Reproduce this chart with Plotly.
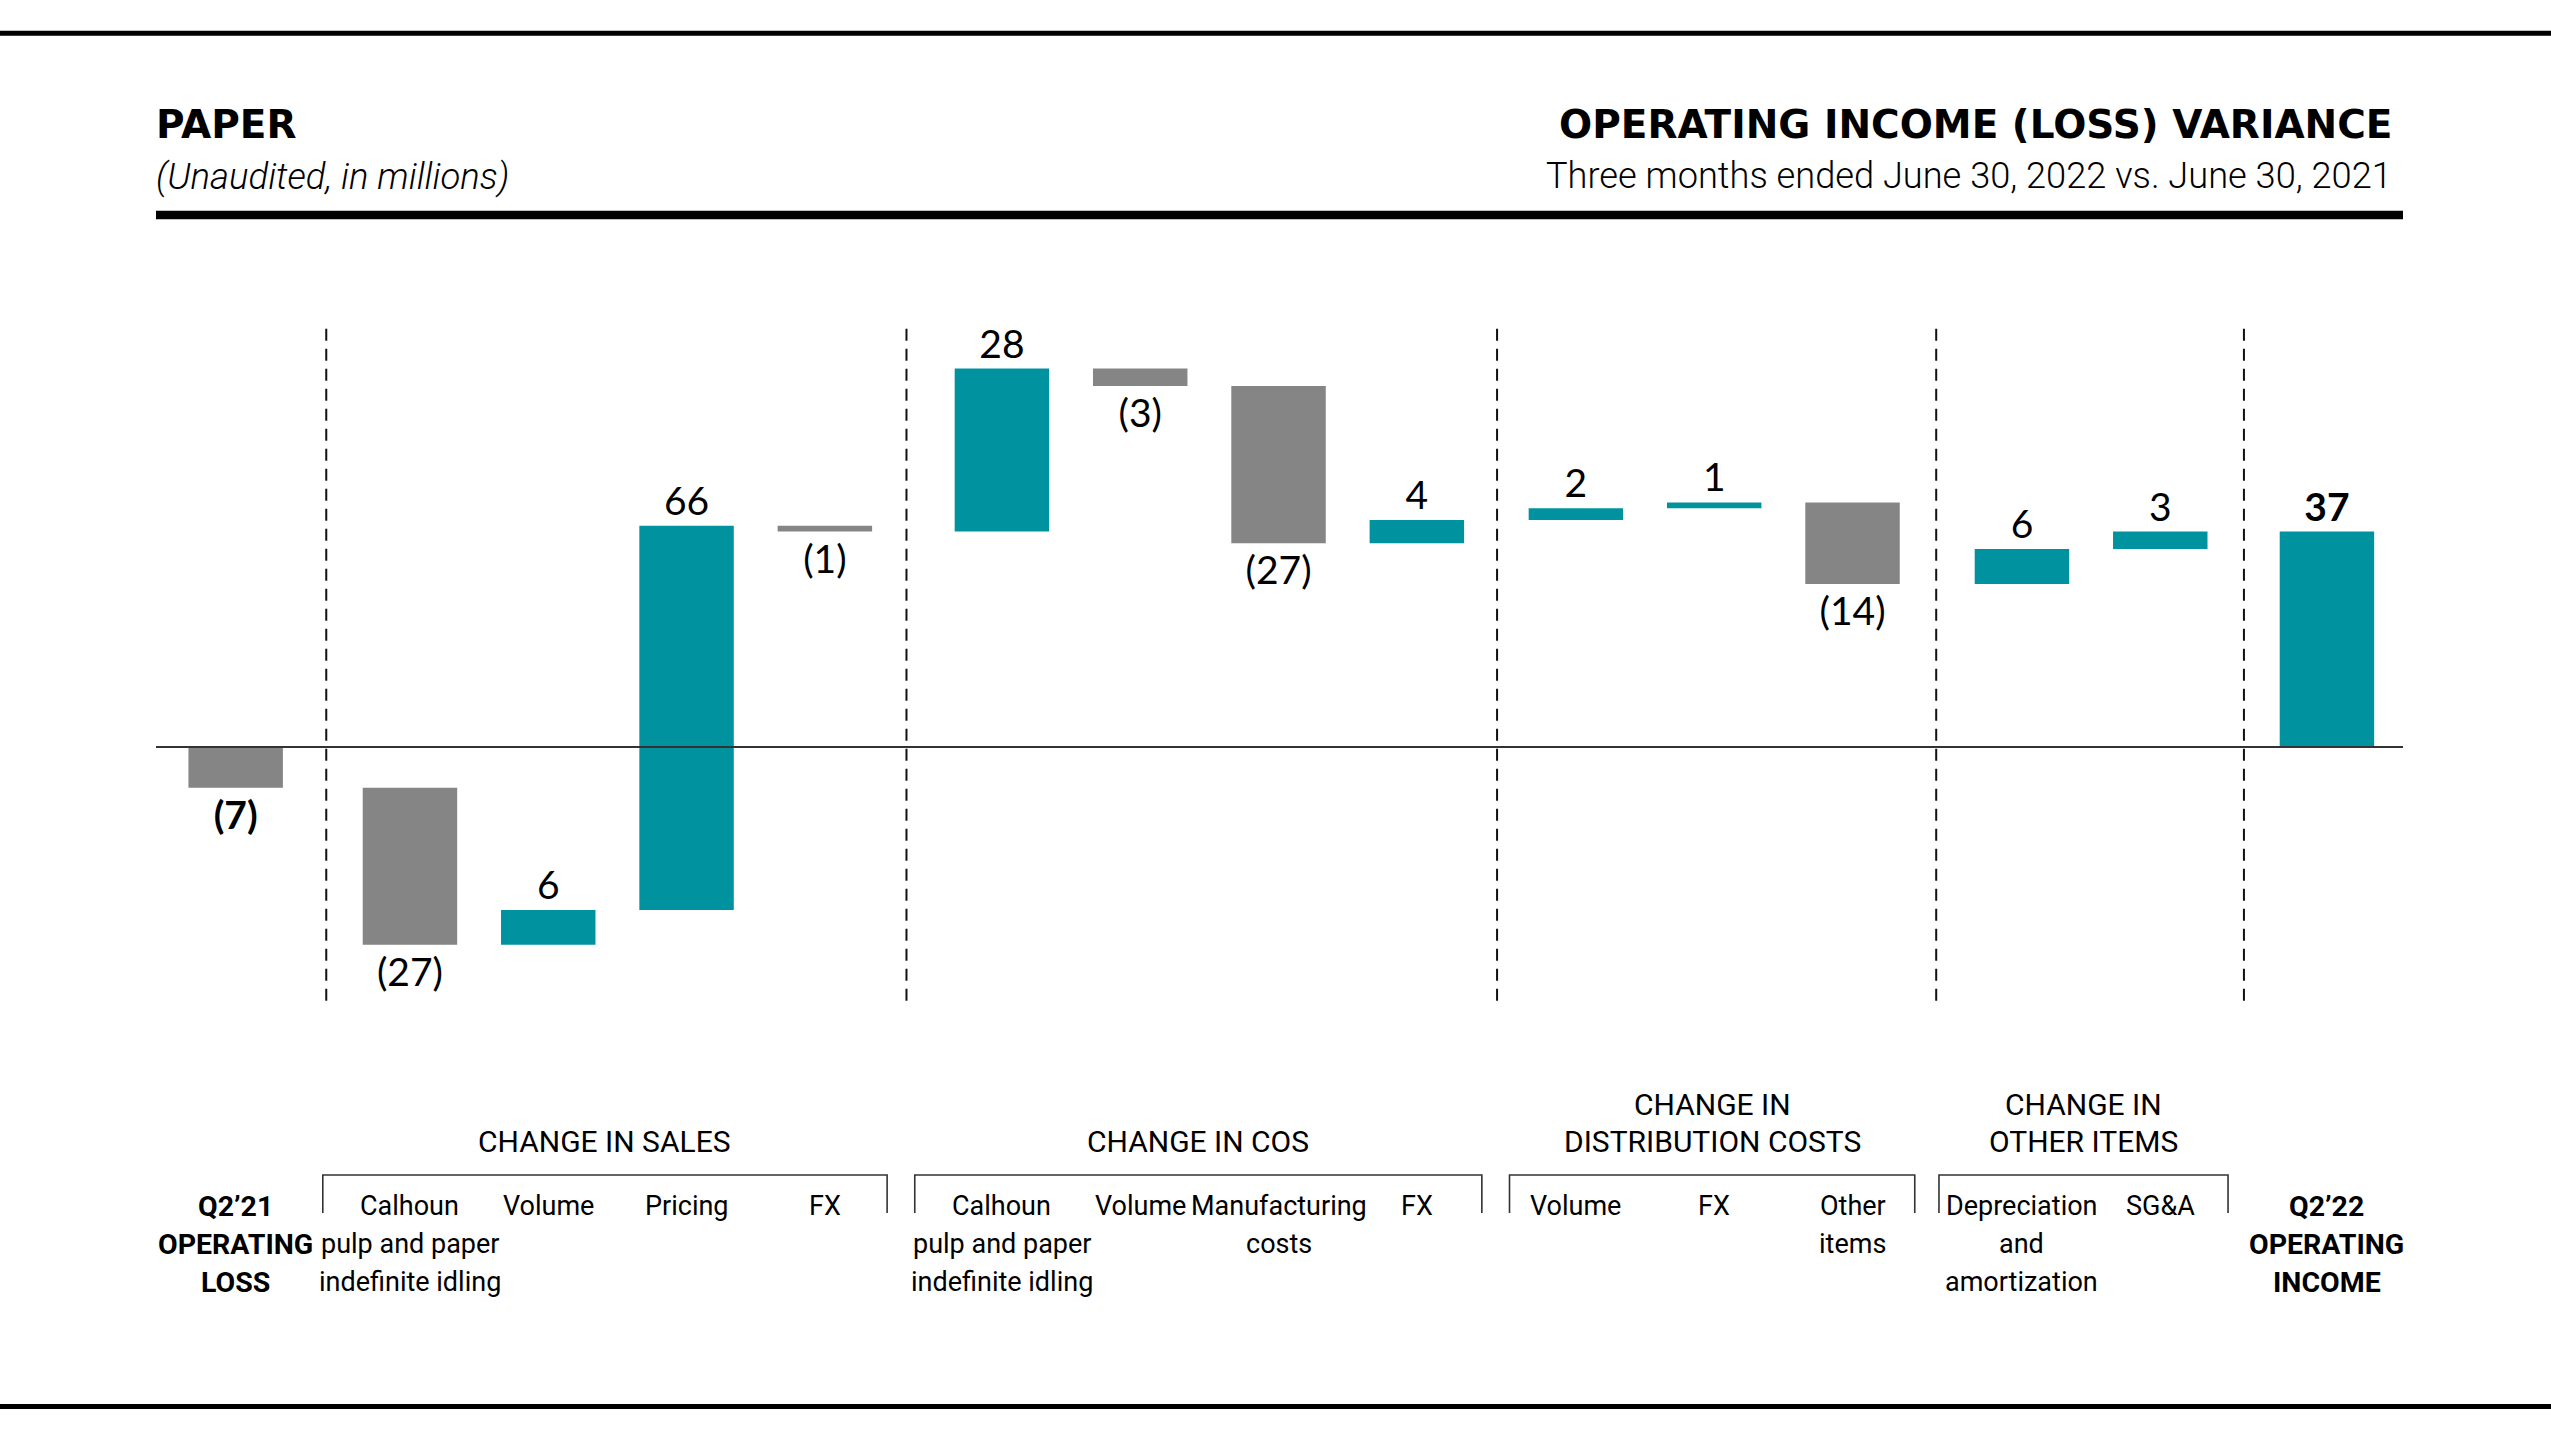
import plotly.graph_objects as go

# ---------------- data ----------------
values = [-7, -27, 6, 66, -1, 28, -3, -27, 4, 2, 1, -14, 6, 3, 37]
measures = ["relative"] * 14 + ["total"]
bar_names = [
    "Q2'21 operating loss",
    "Sales: Calhoun pulp and paper indefinite idling", "Sales: Volume", "Sales: Pricing", "Sales: FX",
    "COS: Calhoun pulp and paper indefinite idling", "COS: Volume", "COS: Manufacturing costs", "COS: FX",
    "Distribution: Volume", "Distribution: FX", "Distribution: Other items",
    "Other: Depreciation and amortization", "Other: SG&A",
    "Q2'22 operating income",
]
bar_group = [0, 1, 1, 1, 1, 2, 2, 2, 2, 3, 3, 3, 4, 4, 5]
bold_bars = [0, 14]
tick_lines = [
    ["Q2’21", "OPERATING", "LOSS"],
    ["Calhoun", "pulp and paper", "indefinite idling"],
    ["Volume"],
    ["Pricing"],
    ["FX"],
    ["Calhoun", "pulp and paper", "indefinite idling"],
    ["Volume"],
    ["Manufacturing", "costs"],
    ["FX"],
    ["Volume"],
    ["FX"],
    ["Other", "items"],
    ["Depreciation", "and", "amortization"],
    ["SG&amp;A"],
    ["Q2’22", "OPERATING", "INCOME"],
]
group_titles = {
    1: ["CHANGE IN SALES"],
    2: ["CHANGE IN COS"],
    3: ["CHANGE IN", "DISTRIBUTION COSTS"],
    4: ["CHANGE IN", "OTHER ITEMS"],
}
title_left = "PAPER"
subtitle_left = "(Unaudited, in millions)"
title_right = "OPERATING INCOME (LOSS) VARIANCE"
subtitle_right = "Three months ended June 30, 2022 vs. June 30, 2021"

# ---------------- layout constants ----------------
W, H = 2551, 1434
PL, PR, PT, PB = 156, 2403, 322, 1329
TEAL = "#00939F"
GRAY = "#858585"
GROUP_OFFSET = [0, 0.26, 0.54, 0.69, 0.915, 1.12]
BAR_W = 0.683
SEP_X = [0.655, 4.85, 9.12, 12.295, 14.52]
BRACKET_PAD = {1: (0.63, 0.45), 2: (0.63, 0.47), 3: (0.48, 0.45), 4: (0.60, 0.49)}
NUM_FONT = "Lato"
LBL_FONT = "Roboto"
HDR_FONT = "DejaVu Sans"
SUB_FONT = "Roboto"


def py(y):
    return (PB - y) / (PB - PT)


def pxp(x):
    return (x - PL) / (PR - PL)


x_pos = [i + GROUP_OFFSET[g] for i, g in enumerate(bar_group)]
labels = []
for i, v in enumerate(values):
    s = f"({abs(v)})" if v < 0 else f"{v}"
    if i in bold_bars:
        s = f"<b>{s}</b>"
    labels.append(s)

fig = go.Figure(
    go.Waterfall(
        x=x_pos,
        y=values,
        measure=measures,
        width=[BAR_W] * len(values),
        text=labels,
        textposition="outside",
        textfont=dict(family=NUM_FONT, size=39, color="#000000"),
        increasing=dict(marker=dict(color=TEAL)),
        decreasing=dict(marker=dict(color=GRAY)),
        totals=dict(marker=dict(color=TEAL)),
        connector=dict(visible=False),
        cliponaxis=False,
        constraintext="none",
        hovertext=bar_names,
        hoverinfo="text+y",
        showlegend=False,
    )
)

shapes = []
# zero line
shapes.append(dict(type="line", xref="paper", yref="y", x0=0, x1=1, y0=0, y1=0,
                   line=dict(color="#333333", width=2), layer="above"))
# dashed separators
for sx in SEP_X:
    shapes.append(dict(type="line", xref="x", yref="y", x0=sx, x1=sx, y0=-43.6, y1=72.4,
                       line=dict(color="#111111", width=2, dash="12px,8px")))
# header rules
shapes.append(dict(type="line", xref="paper", yref="paper", x0=-0.1, x1=1.1,
                   y0=py(33.3), y1=py(33.3), line=dict(color="#000000", width=5)))
shapes.append(dict(type="line", xref="paper", yref="paper", x0=0, x1=1,
                   y0=py(215), y1=py(215), line=dict(color="#000000", width=8.5)))
shapes.append(dict(type="line", xref="paper", yref="paper", x0=-0.1, x1=1.1,
                   y0=py(1406.5), y1=py(1406.5), line=dict(color="#000000", width=5)))

annotations = []
# group brackets and titles
for g, title in group_titles.items():
    idx = [i for i, gg in enumerate(bar_group) if gg == g]
    left = x_pos[idx[0]] - BRACKET_PAD[g][0]
    right = x_pos[idx[-1]] + BRACKET_PAD[g][1]
    yt, yb = py(1175), py(1213)
    shapes.append(dict(type="path", xref="x", yref="paper",
                       path=f"M {left},{yb} L {left},{yt} L {right},{yt} L {right},{yb}",
                       line=dict(color="#333333", width=1.6)))
    rows = [1141] if len(title) == 1 else [1104, 1141]
    for line, yy in zip(title, rows):
        annotations.append(dict(xref="x", yref="paper", x=(left + right) / 2, y=py(yy),
                                text=line, showarrow=False, xanchor="center", yanchor="middle",
                                font=dict(family=LBL_FONT, size=30, color="#000000")))

# category labels
ROWS = [1206, 1244, 1282]
for i, lines in enumerate(tick_lines):
    for line, yy in zip(lines, ROWS):
        bold = i in bold_bars
        txt = f"<b>{line}</b>" if bold else line
        annotations.append(dict(xref="x", yref="paper", x=x_pos[i], y=py(yy),
                                text=txt, showarrow=False, xanchor="center", yanchor="middle",
                                font=dict(family=LBL_FONT, size=28.5 if bold else 27,
                                          color="#000000")))

# headers
annotations.append(dict(xref="paper", yref="paper", x=0, y=py(125), xshift=-2,
                        text=f"<b>{title_left}</b>", showarrow=False, xanchor="left", yanchor="middle",
                        font=dict(family=HDR_FONT, size=39, color="#000000")))
annotations.append(dict(xref="paper", yref="paper", x=0, y=py(176), xshift=-2,
                        text=f"<i>{subtitle_left}</i>", showarrow=False, xanchor="left", yanchor="middle",
                        font=dict(family=SUB_FONT, size=36.5, color="#000000", weight=300)))
annotations.append(dict(xref="paper", yref="paper", x=pxp(2392), y=py(125), xshift=2,
                        text=f"<b>{title_right}</b>", showarrow=False, xanchor="right", yanchor="middle",
                        font=dict(family=HDR_FONT, size=39, color="#000000")))
annotations.append(dict(xref="paper", yref="paper", x=pxp(2392), y=py(175), xshift=2,
                        text=subtitle_right, showarrow=False, xanchor="right", yanchor="middle",
                        font=dict(family=SUB_FONT, size=36.2, color="#000000", weight=300)))

fig.update_layout(
    width=W, height=H,
    margin=dict(l=PL, r=W - PR, t=PT, b=H - PB, pad=0),
    paper_bgcolor="white", plot_bgcolor="white",
    xaxis=dict(range=[-0.576, 15.67], showgrid=False, zeroline=False, showline=False,
               showticklabels=False, ticks="", fixedrange=True),
    yaxis=dict(range=[-100, 73], showgrid=False, zeroline=False, showline=False,
               showticklabels=False, ticks="", fixedrange=True),
    shapes=shapes,
    annotations=annotations,
    showlegend=False,
)

fig.write_html("out.html")
